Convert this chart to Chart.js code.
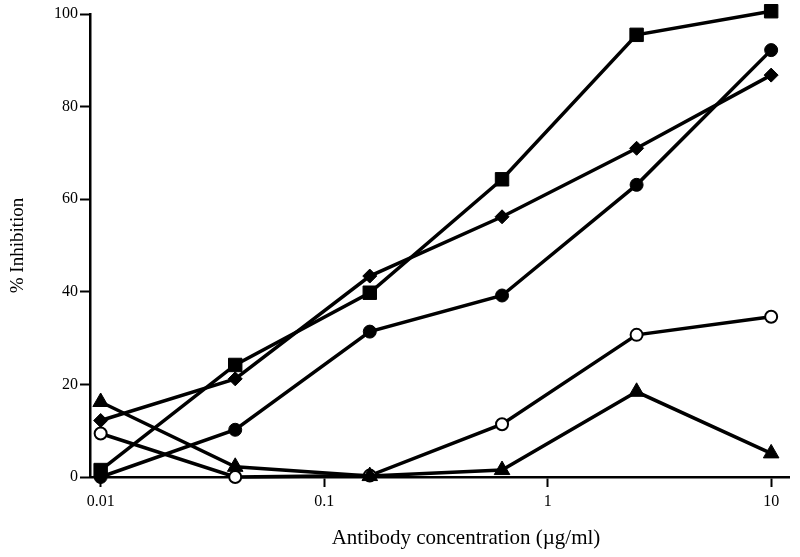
<!DOCTYPE html>
<html>
<head>
<meta charset="utf-8">
<script src="https://cdn.jsdelivr.net/npm/chart.js@4"></script>
<style>
  html, body { margin: 0; padding: 0; background: #fff; }
  #wrap { width: 800px; height: 557px; position: relative; }
</style>
</head>
<body>
<div id="wrap"><canvas id="c" width="800" height="557"></canvas></div>
<script>
// Antibody concentrations (µg/ml)
const concentrations = [0.01, 0.04, 0.16, 0.625, 2.5, 10];
// % Inhibition for each series
const squareSeries   = [1.5, 24.2, 39.8, 64.3, 95.5, 100.6];
const circleSeries   = [0, 10.2, 31.4, 39.2, 63.1, 92.2];
const diamondSeries  = [12.2, 21.2, 43.4, 56.2, 71.0, 86.8];
const openCircleSeries = [9.4, 0, 0.3, 11.4, 30.7, 34.6];
const triangleSeries = [16.2, 2.2, 0.2, 1.5, 18.4, 5.1];
// Tick labels
const xTicks = [0.01, 0.1, 1, 10];
const yTicks = [0, 20, 40, 60, 80, 100];
const xTitle = 'Antibody concentration (µg/ml)';
const yTitle = '% Inhibition';

const serif = "'Liberation Serif', 'Times New Roman', serif";

function pts(vals) { return concentrations.map((x, i) => ({ x: x, y: vals[i] })); }

function ds(vals, style, radius, fill, bw) {
  return {
    data: pts(vals),
    borderColor: '#000',
    backgroundColor: fill,
    pointBackgroundColor: fill,
    pointBorderColor: '#000',
    pointBorderWidth: bw,
    pointStyle: style,
    pointRadius: radius,
    pointHoverRadius: radius,
    borderWidth: 3.5,
    tension: 0,
    clip: false
  };
}

const xTitlePlugin = {
  id: 'xTitlePlugin',
  afterDraw(chart) {
    const ctx = chart.ctx;
    ctx.save();
    ctx.fillStyle = '#000';
    ctx.font = "21px " + serif;
    ctx.textAlign = 'center';
    ctx.textBaseline = 'middle';
    ctx.fillText(xTitle, 466, 538);
    ctx.restore();
  }
};

new Chart(document.getElementById('c'), {
  type: 'line',
  data: {
    datasets: [
      ds(triangleSeries, 'triangle', 9, '#000', 1),
      ds(openCircleSeries, 'circle', 6, '#fff', 2),
      ds(circleSeries, 'circle', 6.5, '#000', 1),
      ds(diamondSeries, 'rectRot', 7, '#000', 1),
      ds(squareSeries, 'rect', 9.5, '#000', 1)
    ]
  },
  options: {
    responsive: false,
    animation: false,
    devicePixelRatio: 1,
    layout: { padding: { top: 14, right: 6, left: 0, bottom: 0 } },
    plugins: { legend: { display: false }, tooltip: { enabled: false } },
    scales: {
      x: {
        type: 'logarithmic',
        min: 0.00896,
        max: 12.08,
        afterBuildTicks(scale) { scale.ticks = xTicks.map(v => ({ value: v })); },
        afterFit(scale) { scale.height = 80; },
        ticks: {
          color: '#000',
          font: { family: serif, size: 16 },
          padding: 5,
          maxRotation: 0,
          autoSkip: false,
          callback: (v) => String(v)
        },
        grid: { display: true, drawOnChartArea: false, drawTicks: true, tickLength: 10, tickWidth: 2, tickColor: '#000', color: '#000' },
        border: { display: true, color: '#000', width: 2.5 }
      },
      y: {
        type: 'linear',
        min: 0,
        max: 100,
        afterBuildTicks(scale) { scale.ticks = yTicks.map(v => ({ value: v })); },
        afterFit(scale) { scale.width = 90; },
        ticks: {
          color: '#000',
          font: { family: serif, size: 16 },
          padding: 2
        },
        title: {
          display: true,
          text: yTitle,
          color: '#000',
          font: { family: serif, size: 19 },
          padding: { top: 7, bottom: 0 }
        },
        grid: { display: true, drawOnChartArea: false, drawTicks: true, tickLength: 10, tickWidth: 2, tickColor: '#000', color: '#000' },
        border: { display: true, color: '#000', width: 2.5 }
      }
    }
  },
  plugins: [xTitlePlugin]
});
</script>
</body>
</html>
